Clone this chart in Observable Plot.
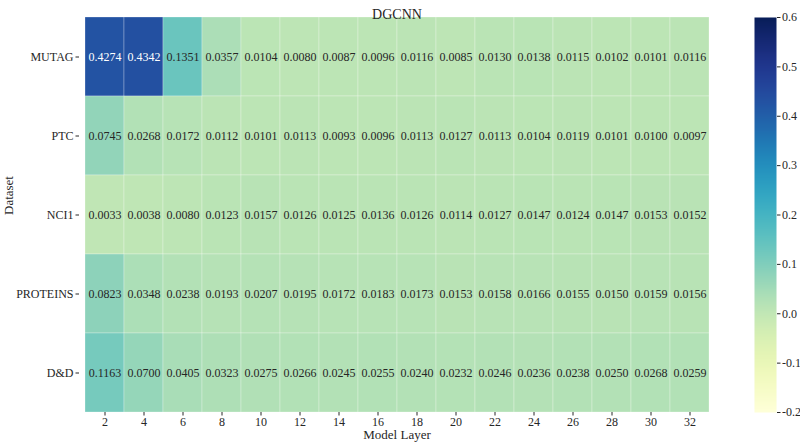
<!DOCTYPE html>
<html>
<head>
<meta charset="utf-8">
<script src="https://cdn.jsdelivr.net/npm/d3@7"></script>
<script src="https://cdn.jsdelivr.net/npm/@observablehq/plot@0.6"></script>
<style>
  body { margin: 0; background: white; }
  #wrap { position: relative; width: 800px; height: 446px; overflow: hidden; }
  #wrap > svg { position: absolute; top: 0; margin: 0; overflow: visible; }
</style>
</head>
<body>
<div id="wrap"></div>
<script>
const datasets = ["MUTAG", "PTC", "NCI1", "PROTEINS", "D&D"];
const layers = ["2","4","6","8","10","12","14","16","18","20","22","24","26","28","30","32"];
const mutag    = [0.4274,0.4342,0.1351,0.0357,0.0104,0.0080,0.0087,0.0096,0.0116,0.0085,0.0130,0.0138,0.0115,0.0102,0.0101,0.0116];
const ptc      = [0.0745,0.0268,0.0172,0.0112,0.0101,0.0113,0.0093,0.0096,0.0113,0.0127,0.0113,0.0104,0.0119,0.0101,0.0100,0.0097];
const nci1     = [0.0033,0.0038,0.0080,0.0123,0.0157,0.0126,0.0125,0.0136,0.0126,0.0114,0.0127,0.0147,0.0124,0.0147,0.0153,0.0152];
const proteins = [0.0823,0.0348,0.0238,0.0193,0.0207,0.0195,0.0172,0.0183,0.0173,0.0153,0.0158,0.0166,0.0155,0.0150,0.0159,0.0156];
const dd       = [0.1163,0.0700,0.0405,0.0323,0.0275,0.0266,0.0245,0.0255,0.0240,0.0232,0.0246,0.0236,0.0238,0.0250,0.0268,0.0259];
const colorTicks = [-0.2,-0.1,0.0,0.1,0.2,0.3,0.4,0.5,0.6];
const colorDomain = [-0.2, 0.6];
const title = "DGCNN";
const xLabel = "Model Layer";
const yLabel = "Dataset";

const series = [mutag, ptc, nci1, proteins, dd];
const table = [];
datasets.forEach((ds, i) => layers.forEach((l, j) => table.push({dataset: ds, layer: l, value: series[i][j]})));

const font = "'Liberation Serif', 'Times New Roman', serif";
const ink = "#262626";
const colorScale = {type: "linear", scheme: "ylgnbu", domain: colorDomain};

const main = Plot.plot({
  width: 800, height: 446,
  marginLeft: 79, marginRight: 86, marginTop: 17, marginBottom: 34,
  style: {fontFamily: font, fontSize: "12px", color: ink, background: "white"},
  x: {domain: layers, padding: 0},
  y: {domain: datasets, padding: 0},
  color: colorScale,
  marks: [
    Plot.cell(table, {x: "layer", y: "dataset", fill: "value", stroke: "white", strokeOpacity: 0.45, strokeWidth: 0.6}),
    Plot.text(table, {x: "layer", y: "dataset", text: d => d.value.toFixed(4), fill: d => d.value > 0.3 ? "white" : ink, fontSize: 12}),
    Plot.axisX({tickSize: 3.5, tickPadding: 1, label: null, fontSize: 12}),
    Plot.axisY({tickSize: 3.5, tickPadding: 2.5, label: null, fontSize: 12}),
    Plot.text([title], {frameAnchor: "top", dy: -8, fontSize: 14, fill: ink}),
    Plot.text([xLabel], {frameAnchor: "bottom", dy: 26.5, fontSize: 13, fill: ink}),
    Plot.text([yLabel], {frameAnchor: "left", dx: -71, rotate: -90, fontSize: 13, fill: ink})
  ]
});
main.style.left = "0px";

const bar = Plot.plot({
  width: 46, height: 446,
  marginLeft: 0, marginRight: 24, marginTop: 17, marginBottom: 34,
  style: {fontFamily: font, fontSize: "12px", color: ink, background: "transparent", overflow: "visible"},
  x: {domain: [0, 1], axis: null},
  y: {domain: colorDomain},
  color: colorScale,
  marks: [
    Plot.raster({x1: 0, x2: 1, y1: colorDomain[0], y2: colorDomain[1], width: 1, height: 400, fill: (x, y) => y, imageRendering: "auto"}),
    Plot.axisY({anchor: "right", ticks: colorTicks, tickFormat: d => d.toFixed(1), tickSize: 3.5, tickPadding: 2, label: null, fontSize: 12})
  ]
});
bar.style.left = "754px";

const wrap = document.getElementById("wrap");
wrap.appendChild(main);
wrap.appendChild(bar);
</script>
</body>
</html>
